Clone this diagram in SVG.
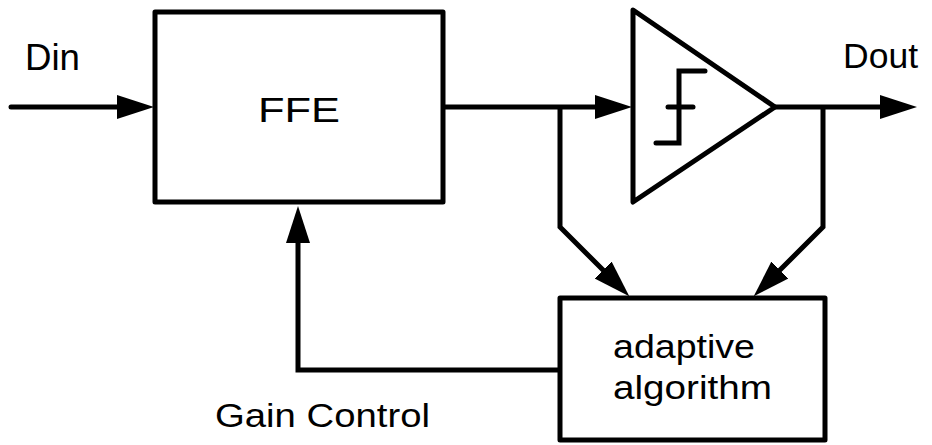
<svg xmlns="http://www.w3.org/2000/svg" width="932" height="445" viewBox="0 0 932 445">
<style>
.box{fill:#fff;stroke:#000;stroke-width:5;stroke-linejoin:round}
.wire{fill:none;stroke:#000;stroke-width:5;stroke-linejoin:miter}
.step{fill:none;stroke:#000;stroke-width:5;stroke-linecap:round;stroke-linejoin:miter}
.lbl{font-family:"Liberation Sans",Arial,sans-serif;fill:#000}
</style>
<defs>
<marker id="arr" markerUnits="userSpaceOnUse" viewBox="0 -13 40 26" markerWidth="40" markerHeight="26" refX="1" refY="0" orient="auto">
<path d="M0,-12 L37,0 L0,12 Z" fill="#000"/>
</marker>
</defs>
<rect width="932" height="445" fill="#fff"/>
<g id="connectors">
<path class="wire" d="M11,107 L118,107" stroke-linecap="round" marker-end="url(#arr)"/>
<path class="wire" d="M443,107 L596,107" marker-end="url(#arr)"/>
<path class="wire" d="M775,107 L881,107" marker-end="url(#arr)"/>
<path class="wire" d="M560,107 L560,227 L603.8,270.8" marker-end="url(#arr)"/>
<path class="wire" d="M823,107 L823,227 L779.2,270.8" marker-end="url(#arr)"/>
<path class="wire" d="M560,370 L298,370 L298,242" marker-end="url(#arr)"/>
</g>
<g id="ffe">
<rect class="box" x="155" y="12" width="288" height="190"/>
<text class="lbl" x="258" y="122" font-size="35" textLength="82" lengthAdjust="spacingAndGlyphs">FFE</text>
</g>
<g id="comparator">
<path class="box" d="M633,10 L775,107 L633,202 Z" stroke-linejoin="miter"/>
<path class="step" d="M656,143 L679,143 L679,71 L705,71"/>
<path class="step" d="M668,107 L693,107"/>
</g>
<g id="adaptive">
<rect class="box" x="560" y="298" width="265" height="142"/>
<text class="lbl" x="613" y="358" font-size="33" textLength="142" lengthAdjust="spacingAndGlyphs">adaptive</text>
<text class="lbl" x="613" y="399" font-size="33" textLength="159" lengthAdjust="spacingAndGlyphs">algorithm</text>
</g>
<g id="labels">
<text class="lbl" x="25" y="70" font-size="36" textLength="55" lengthAdjust="spacingAndGlyphs">Din</text>
<text class="lbl" x="843" y="68" font-size="35" textLength="75" lengthAdjust="spacingAndGlyphs">Dout</text>
<text class="lbl" x="215" y="427" font-size="33" textLength="215" lengthAdjust="spacingAndGlyphs">Gain Control</text>
</g>
</svg>
